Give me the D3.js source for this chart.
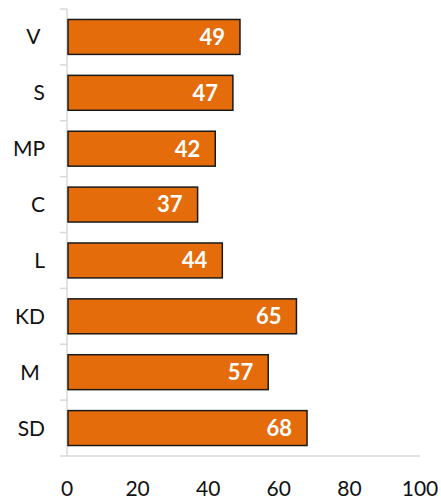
<!DOCTYPE html>
<html><head><meta charset="utf-8">
<script src="https://cdn.jsdelivr.net/npm/d3@7"></script>
<style>body{margin:0;background:#fff}svg{display:block}text{font-family:Lato,"Open Sans",sans-serif}</style>
</head><body><svg id="c" width="441" height="499"></svg>
<script>
const categories = ["V ", "S", "MP", "C", "L", "KD", "M ", "SD"];
const values = [49, 47, 42, 37, 44, 65, 57, 68];
const xTicks = [0, 20, 40, 60, 80, 100];

const svg = d3.select("#c");
const mL = 67, mR = 420, mT = 9, mB = 456;
const x = d3.scaleLinear().domain([0, 100]).range([mL, mR]);
const y = d3.scaleBand().domain(categories).range([mT, mB]).paddingInner(0.375).paddingOuter(0.1875);

// axes lines
const axisColor = "#d9d9d9";
svg.append("line").attr("x1", mL).attr("x2", mL).attr("y1", mT).attr("y2", mB).attr("stroke", axisColor).attr("stroke-width", 1.5);
svg.append("line").attr("x1", mL - 7).attr("x2", mR).attr("y1", mB).attr("y2", mB).attr("stroke", axisColor).attr("stroke-width", 1.5);
const step = (mB - mT) / categories.length;
d3.range(categories.length).forEach(i => {
  svg.append("line").attr("x1", mL - 7).attr("x2", mL).attr("y1", mT + i * step).attr("y2", mT + i * step).attr("stroke", axisColor).attr("stroke-width", 1.5);
});

svg.selectAll("rect.bar").data(values).enter().append("rect")
  .attr("class", "bar")
  .attr("x", x(0) + 1)
  .attr("y", (d, i) => y(categories[i]))
  .attr("width", d => x(d) - x(0) - 1)
  .attr("height", y.bandwidth())
  .attr("fill", "#E46C0A")
  .attr("stroke", "#1a1a1a")
  .attr("stroke-width", 1.5);

svg.selectAll("text.val").data(values).enter().append("text")
  .attr("class", "val")
  .attr("x", d => x(d) - 15)
  .attr("y", (d, i) => y(categories[i]) + y.bandwidth() / 2)
  .attr("dy", "0.36em")
  .attr("text-anchor", "end")
  .attr("fill", "#fff")
  .attr("font-weight", "bold")
  .attr("font-size", 22)
  .text(d => d);

svg.selectAll("text.cat").data(categories).enter().append("text")
  .attr("class", "cat")
  .attr("x", 45)
  .attr("y", d => y(d) + y.bandwidth() / 2)
  .attr("dy", "0.36em")
  .attr("text-anchor", "end")
  .attr("fill", "#111")
  .attr("font-size", 21)
  .style("white-space", "pre")
  .text(d => d);

svg.selectAll("text.tick").data(xTicks).enter().append("text")
  .attr("class", "tick")
  .attr("x", d => x(d))
  .attr("y", 496)
  .attr("text-anchor", "middle")
  .attr("fill", "#111")
  .attr("font-size", 21)
  .text(d => d);
</script></body></html>
